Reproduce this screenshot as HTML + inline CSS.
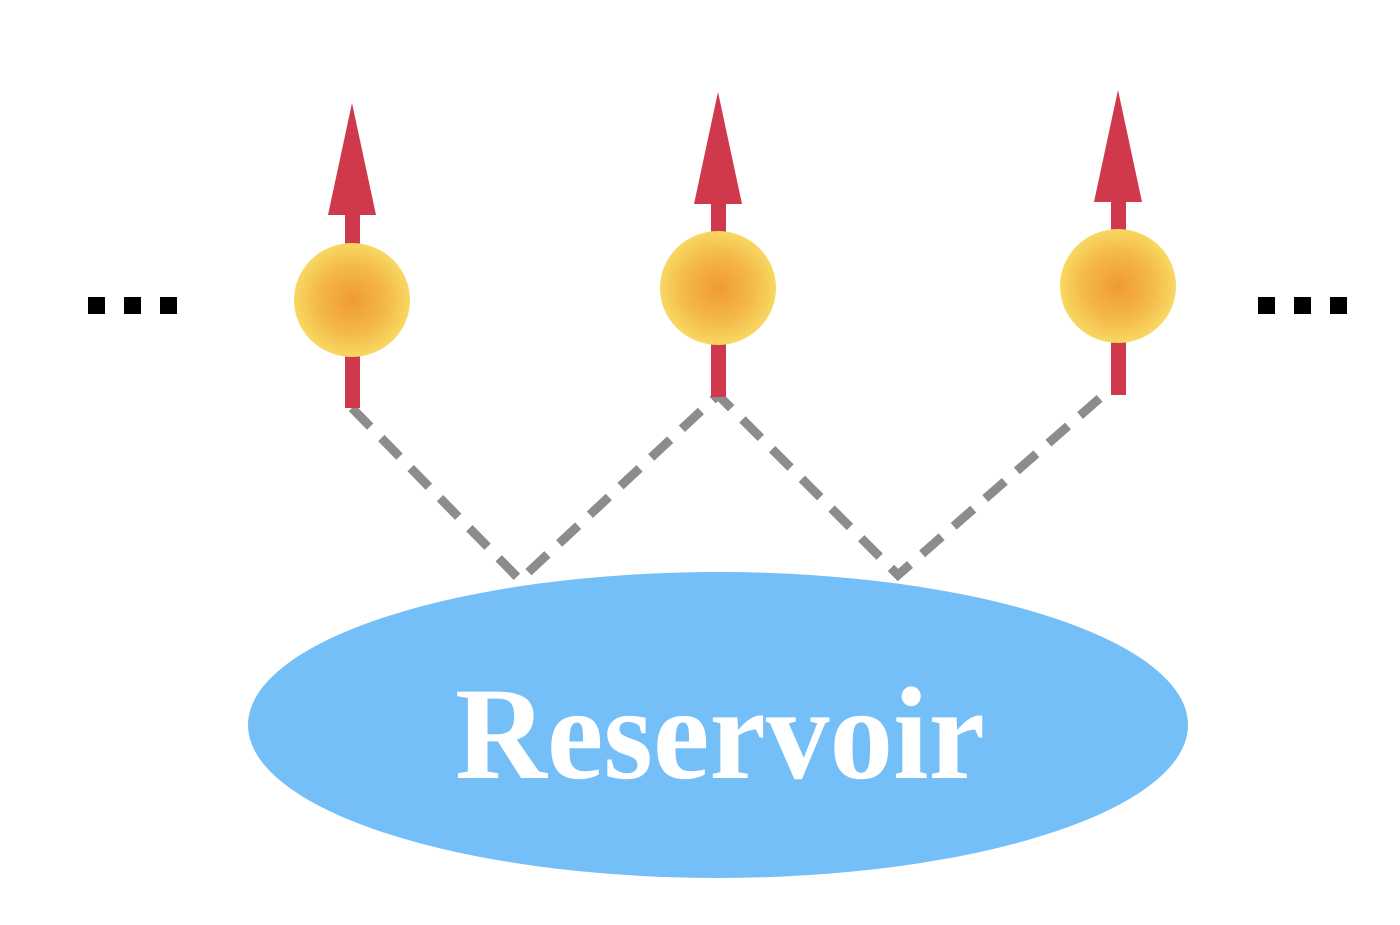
<!DOCTYPE html>
<html><head><meta charset="utf-8"><style>html,body{margin:0;padding:0;background:#fff;}</style></head>
<body>
<svg width="1400" height="920" viewBox="0 0 1400 920" xmlns="http://www.w3.org/2000/svg">
<defs>
<radialGradient id="g" cx="50%" cy="50%" r="50%">
<stop offset="0" stop-color="#f09a35"/>
<stop offset="0.6" stop-color="#f4b94a"/>
<stop offset="1" stop-color="#f8d862"/>
</radialGradient>
</defs>
<g stroke="#8c8c8c" stroke-width="9" stroke-dasharray="26,16" fill="none">
<path d="M352 408 L520 580 L718 395 L898 575 L1100 398"/>
</g>
<g fill="#d0384c">
<rect x="345" y="210" width="15" height="198"/>
<polygon points="352,103 328,215 376,215"/>
<rect x="711" y="199" width="15" height="198"/>
<polygon points="718,92 694,204 742,204"/>
<rect x="1111" y="197" width="15" height="198"/>
<polygon points="1118,90 1094,202 1142,202"/>
</g>
<ellipse cx="352" cy="300" rx="58" ry="57" fill="url(#g)"/>
<ellipse cx="718" cy="288" rx="58" ry="57" fill="url(#g)"/>
<ellipse cx="1118" cy="286" rx="58" ry="57" fill="url(#g)"/>
<g fill="#000">
<rect x="88" y="297" width="17" height="17"/><rect x="124" y="297" width="17" height="17"/><rect x="160" y="297" width="17" height="17"/>
<rect x="1258" y="297" width="17" height="17"/><rect x="1294" y="297" width="17" height="17"/><rect x="1330" y="297" width="17" height="17"/>
</g>
<ellipse cx="718" cy="725" rx="470" ry="153" fill="#74bff7"/>
<text x="455" y="778" style="font-family:'Liberation Serif',serif;font-weight:bold;font-size:132px" fill="#fff" textLength="530" lengthAdjust="spacingAndGlyphs">Reservoir</text>
</svg>
</body></html>
